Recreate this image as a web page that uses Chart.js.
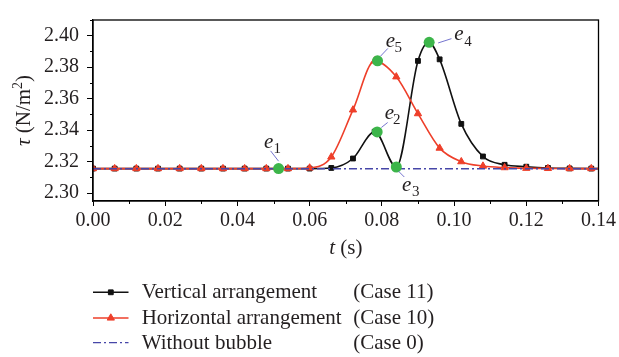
<!DOCTYPE html>
<html>
<head>
<meta charset="utf-8">
<script src="https://cdn.jsdelivr.net/npm/chart.js@4"></script>
<style>
  html, body { margin: 0; padding: 0; background: #fff; }
  #wrap { width: 619px; height: 357px; }
</style>
</head>
<body>
<div id="wrap"><canvas id="c" width="619" height="357"></canvas></div>
<script>
// ---------------- data ----------------
const xTickValues = [0, 0.02, 0.04, 0.06, 0.08, 0.10, 0.12, 0.14];
const xTickLabels = ['0.00', '0.02', '0.04', '0.06', '0.08', '0.10', '0.12', '0.14'];
const yTickValues = [2.30, 2.32, 2.34, 2.36, 2.38, 2.40];
const yTickLabels = ['2.30', '2.32', '2.34', '2.36', '2.38', '2.40'];

const seriesNames = ['Vertical arrangement', 'Horizontal arrangement', 'Without bubble'];
const caseLabels = ['(Case 11)', '(Case 10)', '(Case 0)'];

// Vertical arrangement (Case 11)
const timeVertical = [0, 0.006, 0.012, 0.018, 0.024, 0.030, 0.036, 0.042, 0.048, 0.054, 0.060,
  0.066, 0.072, 0.078, 0.084, 0.090, 0.093, 0.096, 0.102, 0.108, 0.114, 0.120, 0.126, 0.132, 0.138, 0.140];
const tauVertical = [2.3156, 2.3156, 2.3156, 2.3156, 2.3156, 2.3156, 2.3156, 2.3156, 2.3156, 2.3156, 2.3156,
  2.3160, 2.3220, 2.3390, 2.3166, 2.3840, 2.3958, 2.3850, 2.3440, 2.3233, 2.3180, 2.3168, 2.3160, 2.3157, 2.3156, 2.3156];

// Horizontal arrangement (Case 10)
const timeHorizontal = [0, 0.006, 0.012, 0.018, 0.024, 0.030, 0.036, 0.042, 0.048, 0.054,
  0.060, 0.066, 0.072, 0.078, 0.084, 0.090, 0.096, 0.102, 0.108, 0.114, 0.120, 0.126, 0.132, 0.138, 0.140];
const tauHorizontal = [2.3156, 2.3156, 2.3156, 2.3156, 2.3156, 2.3156, 2.3156, 2.3156, 2.3156, 2.3156,
  2.3160, 2.3230, 2.3529, 2.3840, 2.3739, 2.3505, 2.3286, 2.3200, 2.3172, 2.3162, 2.3158, 2.3157, 2.3156, 2.3156, 2.3156];

// Without bubble (Case 0)
const timeBase = [0, 0.14];
const tauBase = [2.3155, 2.3155];

// marked states e1..e5
const eLabels = ['1', '2', '3', '4', '5'];
const eTime = [0.0514, 0.0787, 0.0840, 0.0931, 0.0788];
const eTau = [2.3156, 2.3389, 2.3166, 2.3958, 2.3841];

// ---------------- styling ----------------
const FONT = '"Liberation Serif", "DejaVu Serif", serif';
const TXT = '#231f20';
const BLACK = '#111111';
const RED = '#ee3f2a';
const GREEN = '#3cb54a';
const BLUE = '#4646a8';
const LEADER = '#6464c8';

const pts = (xs, ys) => xs.map((x, i) => ({ x: x, y: ys[i] }));
const onGrid = ctx => {
  const v = ctx.raw ? ctx.raw.x : 0;
  const k = v / 0.006;
  return Math.abs(k - Math.round(k)) < 1e-6;
};

// label offsets (pixels) relative to each marked point: leader start, leader end, e pos, subscript pos
const eOffsets = [
  { l: [0, -7.4, -8, -17.7], e: [-14.5, -21], s: [-5.2, -15.7] },
  { l: [4.2, -4.4, 10.5, -9.4], e: [7.5, -12.7], s: [15.8, -8.4] },
  { l: [2.3, 4.3, 8, 10], e: [5.6, 24], s: [15.6, 29] },
  { l: [9, 0.6, 22.3, -3.7], e: [25, -2], s: [35, 4] },
  { l: [3, -4.6, 10.3, -12.3], e: [8.3, -14], s: [17, -9] }
];

const deco = {
  id: 'deco',
  afterDraw(chart) {
    const { ctx, chartArea: a, scales } = chart;
    const xs = scales.x, ys = scales.y;
    ctx.save();
    // frame
    ctx.strokeStyle = '#000';
    ctx.lineWidth = 1.3;
    ctx.strokeRect(a.left, a.top, a.right - a.left, a.bottom - a.top);
    // minor ticks
    ctx.lineWidth = 1;
    ctx.beginPath();
    for (let i = 0; i < xTickValues.length - 1; i++) {
      const p = Math.round(xs.getPixelForValue((xTickValues[i] + xTickValues[i + 1]) / 2)) + 0.5;
      ctx.moveTo(p, a.bottom); ctx.lineTo(p, a.bottom + 3);
    }
    const yMinor = yTickValues.map(v => v + 0.01).concat([yTickValues[0] - 0.01]);
    yMinor.forEach(v => {
      if (v < ys.min || v > ys.max) return;
      const p = Math.round(ys.getPixelForValue(v)) + 0.5;
      ctx.moveTo(a.left - 3, p); ctx.lineTo(a.left, p);
    });
    ctx.stroke();

    // annotation labels e_i
    const gmeta = chart.getDatasetMeta(0);
    gmeta.data.forEach((el, i) => {
      const o = eOffsets[i];
      ctx.strokeStyle = LEADER;
      ctx.lineWidth = 0.9;
      ctx.beginPath();
      ctx.moveTo(el.x + o.l[0], el.y + o.l[1]);
      ctx.lineTo(el.x + o.l[2], el.y + o.l[3]);
      ctx.stroke();
      ctx.fillStyle = TXT;
      ctx.textBaseline = 'alphabetic';
      ctx.textAlign = 'left';
      ctx.font = 'italic 21px ' + FONT;
      ctx.fillText('e', el.x + o.e[0], el.y + o.e[1]);
      ctx.font = '15px ' + FONT;
      ctx.fillText(eLabels[i], el.x + o.s[0], el.y + o.s[1]);
    });

    // axis titles
    ctx.fillStyle = TXT;
    ctx.textBaseline = 'alphabetic';
    ctx.textAlign = 'left';
    // x title: t (s)
    {
      const parts = [['italic 21px ' + FONT, 't', 0], ['21px ' + FONT, ' (s)', 0]];
      let w = 0;
      parts.forEach(p => { ctx.font = p[0]; w += ctx.measureText(p[1]).width; });
      let x0 = (a.left + a.right) / 2 - w / 2;
      const base = 254;
      parts.forEach(p => { ctx.font = p[0]; ctx.fillText(p[1], x0, base + p[2]); x0 += ctx.measureText(p[1]).width; });
    }
    // y title: τ (N/m²)
    {
      const parts = [['italic 21px ' + FONT, 'τ', 0], ['21px ' + FONT, ' (N/m', 0], ['14px ' + FONT, '2', -8], ['21px ' + FONT, ')', 0]];
      let w = 0;
      parts.forEach(p => { ctx.font = p[0]; w += ctx.measureText(p[1]).width; });
      ctx.save();
      ctx.translate(30, (a.top + a.bottom) / 2);
      ctx.rotate(-Math.PI / 2);
      let x0 = -w / 2;
      parts.forEach(p => { ctx.font = p[0]; ctx.fillText(p[1], x0, p[2]); x0 += ctx.measureText(p[1]).width; });
      ctx.restore();
    }

    // legend
    const legendDs = [1, 2, 3]; // dataset indices: vertical, horizontal, base
    const rowY = [292.3, 318, 342.7];
    legendDs.forEach((di, r) => {
      const ds = chart.data.datasets[di];
      const y = rowY[r];
      ctx.save();
      ctx.strokeStyle = ds.borderColor;
      ctx.lineWidth = ds.borderWidth;
      ctx.setLineDash(ds.borderDash || []);
      ctx.beginPath();
      ctx.moveTo(93, y); ctx.lineTo(128.5, y);
      ctx.stroke();
      ctx.setLineDash([]);
      if (ds.pointStyle) {
        ctx.fillStyle = ds.pointBackgroundColor;
        ctx.strokeStyle = ds.pointBorderColor;
        ctx.lineWidth = 1;
        Chart.helpers.drawPoint(ctx, { pointStyle: ds.pointStyle, radius: ds.legendRadius, rotation: 0, borderWidth: 1 }, 110.8, y);
      }
      ctx.restore();
      ctx.fillStyle = TXT;
      ctx.font = '21px ' + FONT;
      ctx.textBaseline = 'alphabetic';
      ctx.fillText(seriesNames[r], 141.7, y + 6);
      ctx.fillText(caseLabels[r], 353.3, y + 6);
    });
    ctx.restore();
  }
};

const tickFont = { family: FONT, size: 20 };

new Chart(document.getElementById('c'), {
  type: 'line',
  data: {
    datasets: [
      {
        label: 'states',
        data: pts(eTime, eTau),
        showLine: false,
        pointStyle: 'circle',
        pointRadius: 5.5,
        pointBackgroundColor: GREEN,
        pointBorderColor: GREEN,
        pointBorderWidth: 0,
        order: 0,
        clip: 0
      },
      {
        label: seriesNames[0],
        data: pts(timeVertical, tauVertical),
        borderColor: BLACK,
        borderWidth: 1.6,
        cubicInterpolationMode: 'monotone',
        pointStyle: 'rect',
        pointRadius: ctx => onGrid(ctx) ? 3.4 : 0,
        legendRadius: 3.4,
        pointBackgroundColor: BLACK,
        pointBorderColor: BLACK,
        pointBorderWidth: 1,
        order: 3,
        clip: 0
      },
      {
        label: seriesNames[1],
        data: pts(timeHorizontal, tauHorizontal),
        borderColor: RED,
        borderWidth: 1.6,
        cubicInterpolationMode: 'monotone',
        pointStyle: 'triangle',
        pointRadius: ctx => onGrid(ctx) ? 4.2 : 0,
        legendRadius: 4.2,
        pointBackgroundColor: RED,
        pointBorderColor: RED,
        pointBorderWidth: 1,
        order: 2,
        clip: 0
      },
      {
        label: seriesNames[2],
        data: pts(timeBase, tauBase),
        borderColor: BLUE,
        borderWidth: 1.3,
        borderDash: [8, 3, 2, 3],
        pointRadius: 0,
        order: 1,
        clip: 0
      }
    ]
  },
  options: {
    responsive: false,
    devicePixelRatio: 1,
    animation: false,
    events: [],
    layout: { padding: { left: 0, right: 18, top: 9, bottom: 102 } },
    plugins: { legend: { display: false }, tooltip: { enabled: false } },
    scales: {
      x: {
        type: 'linear',
        min: 0,
        max: 0.14,
        afterBuildTicks: s => { s.ticks = xTickValues.map(v => ({ value: v })); },
        afterFit: s => { s.height = 54; },
        ticks: {
          callback: (v, i) => xTickLabels[i],
          font: tickFont, color: TXT, padding: 3, maxRotation: 0, autoSkip: false
        },
        grid: { display: true, drawOnChartArea: false, drawTicks: true, tickLength: 5, color: '#000', lineWidth: 1 },
        border: { display: true, color: '#000', width: 1.3 }
      },
      y: {
        type: 'linear',
        min: 2.295,
        max: 2.41,
        afterBuildTicks: s => { s.ticks = yTickValues.map(v => ({ value: v })); },
        afterFit: s => { s.width = 93; },
        ticks: {
          callback: (v, i) => yTickLabels[i],
          font: tickFont, color: TXT, padding: 8, autoSkip: false
        },
        grid: { display: true, drawOnChartArea: false, drawTicks: true, tickLength: 6, color: '#000', lineWidth: 1 },
        border: { display: true, color: '#000', width: 1.3 }
      }
    }
  },
  plugins: [deco]
});
</script>
</body>
</html>
